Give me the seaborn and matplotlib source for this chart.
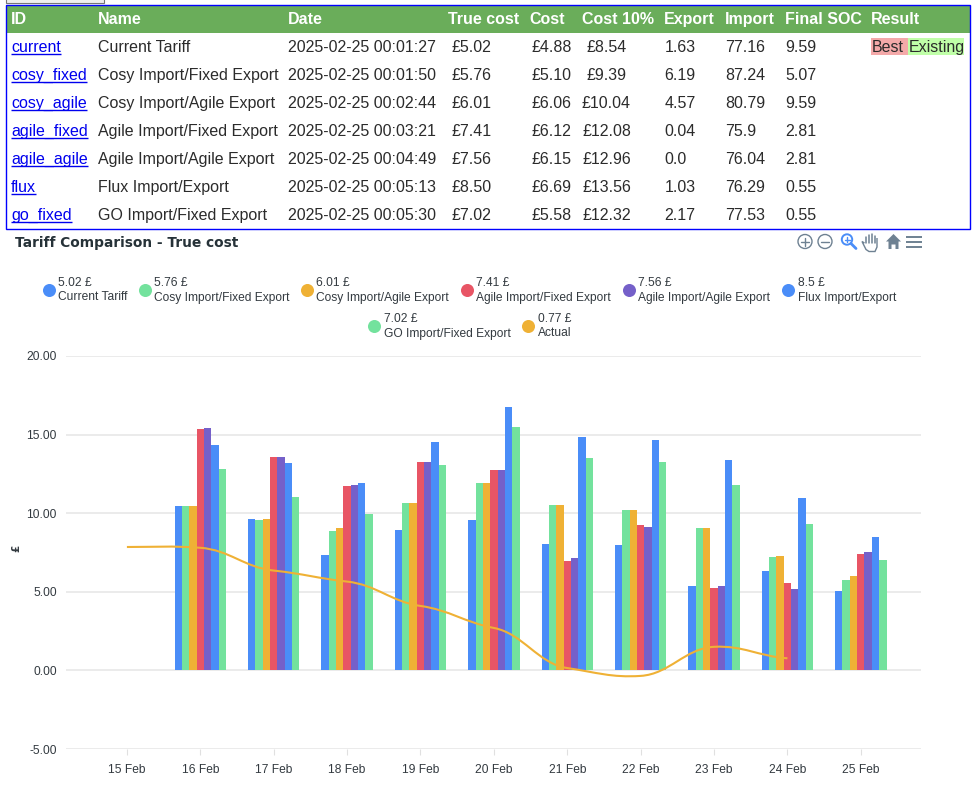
import matplotlib
matplotlib.use("Agg")
import matplotlib.pyplot as plt
import numpy as np
import pandas as pd
import seaborn as sns
from matplotlib.patches import Circle, PathPatch, Polygon, Rectangle
from matplotlib.path import Path

# table contents
headers = ["ID", "Name", "Date", "True cost", "Cost", "Cost 10%", "Export", "Import", "Final SOC", "Result"]
ids = ["current", "cosy_fixed", "cosy_agile", "agile_fixed", "agile_agile", "flux", "go_fixed"]
names = ["Current Tariff", "Cosy Import/Fixed Export", "Cosy Import/Agile Export", "Agile Import/Fixed Export",
         "Agile Import/Agile Export", "Flux Import/Export", "GO Import/Fixed Export"]
dates = ["2025-02-25 00:01:27", "2025-02-25 00:01:50", "2025-02-25 00:02:44", "2025-02-25 00:03:21",
         "2025-02-25 00:04:49", "2025-02-25 00:05:13", "2025-02-25 00:05:30"]
true_cost = ["£5.02", "£5.76", "£6.01", "£7.41", "£7.56", "£8.50", "£7.02"]
cost = ["£4.88", "£5.10", "£6.06", "£6.12", "£6.15", "£6.69", "£5.58"]
cost_10 = ["£8.54", "£9.39", "£10.04", "£12.08", "£12.96", "£13.56", "£12.32"]
export = ["1.63", "6.19", "4.57", "0.04", "0.0", "1.03", "2.17"]
imports = ["77.16", "87.24", "80.79", "75.9", "76.04", "76.29", "77.53"]
final_soc = ["9.59", "5.07", "9.59", "2.81", "2.81", "0.55", "0.55"]

# chart data
days = ["15 Feb", "16 Feb", "17 Feb", "18 Feb", "19 Feb", "20 Feb", "21 Feb", "22 Feb", "23 Feb", "24 Feb", "25 Feb"]
bar_days = days[1:]
current_tariff = [10.44, 9.66, 7.37, 8.90, 9.55, 8.07, 7.99, 5.34, 6.33, 5.02]
cosy_fixed = [10.44, 9.55, 8.88, 10.66, 11.90, 10.49, 10.19, 9.05, 7.22, 5.76]
cosy_agile = [10.44, 9.66, 9.05, 10.68, 11.90, 10.49, 10.19, 9.09, 7.25, 6.01]
agile_fixed = [15.38, 13.60, 11.72, 13.24, 12.75, 6.99, 9.22, 5.23, 5.57, 7.41]
agile_agile = [15.40, 13.60, 11.80, 13.24, 12.75, 7.16, 9.13, 5.36, 5.17, 7.56]
flux = [14.32, 13.18, 11.89, 14.55, 16.78, 14.87, 14.64, 13.39, 10.97, 8.50]
go_fixed = [12.80, 11.00, 9.94, 13.05, 15.49, 13.50, 13.24, 11.78, 9.30, 7.02]
actual = [7.85, 7.80, 6.35, 5.65, 4.10, 2.70, 0.15, -0.35, 1.50, 0.77]

legend_values = ["5.02 £", "5.76 £", "6.01 £", "7.41 £", "7.56 £", "8.5 £", "7.02 £", "0.77 £"]
legend_names = names + ["Actual"]

BLUE, GREEN, ORANGE, RED, PURPLE = "#4a8df8", "#73e29d", "#efb135", "#e85565", "#7560c9"
bar_colors = [BLUE, GREEN, ORANGE, RED, PURPLE, BLUE, GREEN]
legend_colors = bar_colors + [ORANGE]
TEXT = "#333a40"

sns.set_theme(style="white")
plt.rcParams["font.family"] = ["Liberation Sans", "DejaVu Sans"]

W, H = 976, 793
fig = plt.figure(figsize=(W / 100, H / 100), dpi=100)
ax = fig.add_axes([66 / W, 1 - 749 / H, 855 / W, 393 / H])

df = pd.DataFrame({"day": bar_days, names[0]: current_tariff, names[1]: cosy_fixed, names[2]: cosy_agile,
                   names[3]: agile_fixed, names[4]: agile_agile, names[5]: flux, names[6]: go_fixed})
long_df = df.melt(id_vars="day", var_name="tariff", value_name="value")

sns.barplot(data=long_df, x="day", y="value", hue="tariff", order=days, hue_order=names,
            palette=dict(zip(names, bar_colors)), width=0.7, gap=0, saturation=1,
            legend=False, errorbar=None, ax=ax, zorder=2, linewidth=0, edgecolor="none")

# smooth line like the original, bezier segments through the actual values
xs = np.arange(len(actual))
ys = np.array(actual)
slopes = np.gradient(ys, xs) * 0.45
slopes[0] = 0
verts = [(xs[0], ys[0])]
codes = [Path.MOVETO]
for i in range(len(xs) - 1):
    verts += [(xs[i] + 0.4, ys[i] + slopes[i] * 0.4),
              (xs[i + 1] - 0.4, ys[i + 1] - slopes[i + 1] * 0.4),
              (xs[i + 1], ys[i + 1])]
    codes += [Path.CURVE4] * 3
ax.add_patch(PathPatch(Path(verts, codes), fill=False, edgecolor=ORANGE, lw=1.5, zorder=3, capstyle="butt"))

ax.set_xlim(-0.83, 10.82)
ax.set_ylim(-5, 20)
ax.set_yticks([-5, 0, 5, 10, 15, 20])
ax.set_yticklabels(["-5.00", "0.00", "5.00", "10.00", "15.00", "20.00"])
ax.set_axisbelow(True)
ax.grid(axis="y", color="#e8e8e8", lw=1.2)
ax.grid(axis="x", visible=False)
sns.despine(ax=ax, left=True, bottom=True)
ax.tick_params(axis="y", length=0, pad=6.5, labelsize=8.64, labelcolor=TEXT)
ax.tick_params(axis="x", length=4.5, width=0.8, color="#e0e0e0", pad=6.5, labelsize=8.64, labelcolor=TEXT, bottom=True)
ax.set_xlabel("")
ax.set_ylabel("£", fontsize=7.5, fontweight="bold", color=TEXT, family="DejaVu Sans")
ax.yaxis.set_label_coords(-0.0526, 0.511)

# everything outside the plot area is placed in pixel coordinates
ov = fig.add_axes([0, 0, 1, 1], facecolor="none")
ov.set_xlim(0, W)
ov.set_ylim(H, 0)
ov.axis("off")

ov.add_patch(Rectangle((5.5, -6), 98, 9, fc="#efefef", ec="#767676", lw=0.8))
ov.add_patch(Rectangle((5.5, 4.5), 964, 28.5, fc="#6aad5a", ec="none"))
ov.add_patch(Rectangle((5.5, 4.5), 964, 224.5, fc="none", ec="#0000ff", lw=1))

header_x = [11, 98, 288, 448, 529, 582, 664, 725, 785, 871]
for label, x in zip(headers, header_x):
    ov.text(x, 24, label, color="white", fontsize=11.5, fontweight="bold", va="baseline")

renderer = fig.canvas.get_renderer()
ROW_TEXT = "#2b2b2b"
for i in range(len(ids)):
    base = 52 + 28 * i
    t = ov.text(11, base, ids[i], color="#0000ee", fontsize=11.5, va="baseline")
    bb = t.get_window_extent(renderer)
    ov.plot([bb.x0, bb.x1], [base + 2, base + 2], color="#0000ee", lw=1, solid_capstyle="butt")
    ov.text(98, base, names[i], color=ROW_TEXT, fontsize=11.5, va="baseline")
    ov.text(288, base, dates[i], color=ROW_TEXT, fontsize=11.5, va="baseline")
    ov.text(451, base, true_cost[i], color=ROW_TEXT, fontsize=11.5, va="baseline")
    ov.text(532, base, cost[i], color=ROW_TEXT, fontsize=11.5, va="baseline")
    ov.text(606.5, base, cost_10[i], color=ROW_TEXT, fontsize=11.5, va="baseline", ha="center")
    ov.text(664.5, base, export[i], color=ROW_TEXT, fontsize=11.5, va="baseline")
    ov.text(725, base, imports[i], color=ROW_TEXT, fontsize=11.5, va="baseline")
    ov.text(785, base, final_soc[i], color=ROW_TEXT, fontsize=11.5, va="baseline")

ov.add_patch(Rectangle((871, 38), 37, 17, fc="#f4a9a9", ec="none"))
ov.add_patch(Rectangle((908, 38), 56, 17, fc="#c0ffa8", ec="none"))
ov.text(872, 52, "Best", color=ROW_TEXT, fontsize=11.5, va="baseline")
ov.text(908.5, 52, "Existing", color=ROW_TEXT, fontsize=11.5, va="baseline")

ov.text(15, 246.5, "Tariff Comparison - True cost", color="#263238", fontsize=9.9, fontweight="bold",
        family="DejaVu Sans", va="baseline")

# legend
marker_x = [49, 145, 307, 467, 629, 788, 374, 528]
marker_y = [290] * 6 + [326] * 2
for i in range(len(legend_names)):
    ov.scatter(marker_x[i], marker_y[i], s=88, color=legend_colors[i], linewidths=0)
    ov.text(marker_x[i] + 9.5, marker_y[i] - 3.5, legend_values[i], color=TEXT, fontsize=8.64, va="baseline")
    ov.text(marker_x[i] + 9.5, marker_y[i] + 10.5, legend_names[i], color=TEXT, fontsize=8.64, va="baseline")

# toolbar icons
ICON = "#6e8192"
for cx in [805, 825]:
    ov.add_patch(Circle((cx, 241.5), 7, fc="none", ec=ICON, lw=1))
    ov.plot([cx - 4, cx + 4], [241.5, 241.5], color=ICON, lw=1)
ov.plot([805, 805], [237.5, 245.5], color=ICON, lw=1)
ov.add_patch(Circle((847, 239.5), 5.2, fc="none", ec=BLUE, lw=1.4))
ov.plot([851, 856], [243.5, 248.5], color=BLUE, lw=2)
ov.plot([844.5, 849.5], [239.5, 239.5], color=BLUE, lw=1)
ov.plot([847, 847], [237, 242], color=BLUE, lw=1)
for fx, top in zip([866, 869, 872, 875], [237, 234.5, 234, 236]):
    ov.plot([fx, fx], [top, 243], color=ICON, lw=1.1, solid_capstyle="round")
ov.add_patch(Polygon([(864.5, 243), (862, 241.5), (866, 249.5), (869, 251.5), (875, 251.5), (877, 247), (877, 238)],
                     closed=False, fc="none", ec=ICON, lw=1))
ov.add_patch(Polygon([(893.5, 234), (901, 241.5), (898.5, 241.5), (898.5, 249), (895.5, 249), (895.5, 244.5),
                      (891.5, 244.5), (891.5, 249), (888.5, 249), (888.5, 241.5), (886, 241.5)], fc=ICON, ec="none"))
for ly in [236.7, 241.7, 246.7]:
    ov.plot([906, 921.5], [ly, ly], color=ICON, lw=1.4, solid_capstyle="butt")
ov.set_xlim(0, W)
ov.set_ylim(H, 0)

fig.savefig("out.png", dpi=100, facecolor="white")
